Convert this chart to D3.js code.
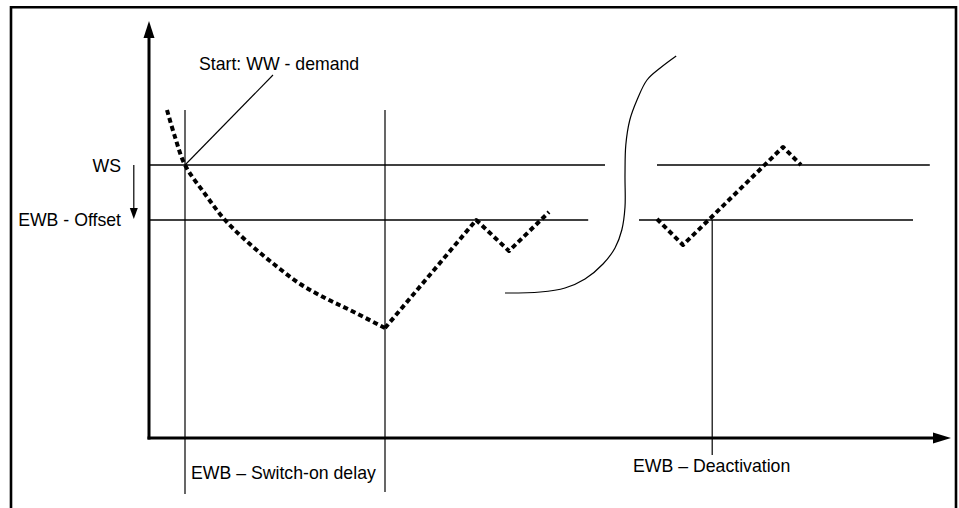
<!DOCTYPE html>
<html>
<head>
<meta charset="utf-8">
<script src="https://cdn.jsdelivr.net/npm/d3@7"></script>
<style>
  html, body { margin: 0; padding: 0; background: #fff; }
  svg { display: block; }
  text { font-family: "Liberation Sans", Arial, sans-serif; font-size: 17.7px; fill: #000; }
</style>
</head>
<body>
<script>
// ---- Data (schematic units: x = time, y = temperature) ----
const levels = [
  { name: "WS", y: 68.25, segments: [[0, 57], [63.5, 97.6]] },
  { name: "EWB - Offset", y: 54.5, segments: [[0, 54.9], [61.25, 95.5]] }
];
const markers = [
  { x: 4.5,  y0: 82, y1: -14 },
  { x: 29.5, y0: 82, y1: -13.5 },
  { x: 70.4, y0: 54.5, y1: -4.25 }
];
const coolingCurve = [
  [2.25, 82], [3.25, 75.25], [4.5, 68.25], [7, 61], [9.5, 54.5], [12.6, 48.5],
  [15.75, 43.25], [18.9, 38.5], [22, 35], [25.1, 32], [29.5, 27.5]
];
const heatingLeft = [[29.5, 27.5], [40.9, 54.5], [45, 46.75], [50, 56.5]];
const heatingRight = [[63.5, 54.75], [66.75, 48.25], [79.25, 72.75], [81.5, 68.25]];
const breakCurve = [
  [65.9, 95.5], [63.9, 92.5], [62.25, 89.5], [61, 84.5], [60.1, 79.5], [59.6, 73.25],
  [59.5, 65.75], [59.5, 57.75], [59.1, 52], [58.25, 47.5], [56.75, 43.5], [54.5, 39.75],
  [52, 37.5], [48.9, 36.5], [44.5, 36.25]
];
const leader = [[4.5, 68.25], [15.5, 90.75]];
const offsetArrow = { x: -1.9, y0: 68.25, y1: 54.5 };
const labels = [
  { text: "Start: WW - demand", x: 6.25, y: 92, anchor: "start" },
  { text: "WS", x: -3.5, y: 66.5, anchor: "end" },
  { text: "EWB - Offset", x: -3.5, y: 53, anchor: "end" },
  { text: "EWB \u2013 Switch-on delay", x: 5.25, y: -10.25, anchor: "start" },
  { text: "EWB \u2013 Deactivation", x: 60.5, y: -8.5, anchor: "start" }
];
const axisExtent = { xMax: 100.25, yMax: 104.25 };

// ---- Layout ----
const W = 959, H = 508;
const x = d3.scaleLinear().domain([0, 100]).range([149, 949]);
const y = d3.scaleLinear().domain([0, 100]).range([438, 38]);

const svg = d3.select("body").append("svg").attr("width", W).attr("height", H);

// outer frame (open at bottom)
svg.append("path")
  .attr("d", `M11,${H + 5} L11,7.3 L956,7.3 L956,${H + 5}`)
  .attr("fill", "none").attr("stroke", "#000").attr("stroke-width", 2.6);

const line = d3.line().x(d => x(d[0])).y(d => y(d[1]));

// level lines
levels.forEach(l => {
  l.segments.forEach(s => {
    svg.append("line")
      .attr("x1", x(s[0])).attr("x2", x(s[1]))
      .attr("y1", y(l.y)).attr("y2", y(l.y))
      .attr("stroke", "#000").attr("stroke-width", 1.3);
  });
});

// vertical markers
markers.forEach(m => {
  svg.append("line")
    .attr("x1", x(m.x)).attr("x2", x(m.x))
    .attr("y1", y(m.y0)).attr("y2", y(m.y1))
    .attr("stroke", "#000").attr("stroke-width", 1.2);
});

// leader line
svg.append("path").attr("d", line(leader))
  .attr("fill", "none").attr("stroke", "#000").attr("stroke-width", 1.1);

// break curve
svg.append("path")
  .attr("d", d3.line().x(d => x(d[0])).y(d => y(d[1])).curve(d3.curveCatmullRom)(breakCurve))
  .attr("fill", "none").attr("stroke", "#000").attr("stroke-width", 1.2);

// axes
svg.append("line")
  .attr("x1", x(0)).attr("x2", x(0)).attr("y1", y(0) + 1.5).attr("y2", y(axisExtent.yMax) + 14)
  .attr("stroke", "#000").attr("stroke-width", 3);
svg.append("path")
  .attr("d", `M${x(0)},${y(axisExtent.yMax)} L${x(0) - 5.5},${y(axisExtent.yMax) + 17} L${x(0) + 5.5},${y(axisExtent.yMax) + 17} Z`)
  .attr("fill", "#000");
svg.append("line")
  .attr("x1", x(0) - 1.5).attr("x2", x(axisExtent.xMax) - 14).attr("y1", y(0)).attr("y2", y(0))
  .attr("stroke", "#000").attr("stroke-width", 3);
svg.append("path")
  .attr("d", `M${x(axisExtent.xMax)},${y(0)} L${x(axisExtent.xMax) - 18},${y(0) - 5.5} L${x(axisExtent.xMax) - 18},${y(0) + 5.5} Z`)
  .attr("fill", "#000");

// small offset arrow
svg.append("line")
  .attr("x1", x(offsetArrow.x)).attr("x2", x(offsetArrow.x))
  .attr("y1", y(offsetArrow.y0)).attr("y2", y(offsetArrow.y1) - 10)
  .attr("stroke", "#000").attr("stroke-width", 1.2);
svg.append("path")
  .attr("d", `M${x(offsetArrow.x)},${y(offsetArrow.y1) - 1} L${x(offsetArrow.x) - 4},${y(offsetArrow.y1) - 12} L${x(offsetArrow.x) + 4},${y(offsetArrow.y1) - 12} Z`)
  .attr("fill", "#000");

// dashed temperature curves
const dashStyle = sel => sel.attr("fill", "none").attr("stroke", "#000")
  .attr("stroke-width", 4).attr("stroke-dasharray", "5,3.3").attr("stroke-linejoin", "round");
svg.append("path")
  .attr("d", d3.line().x(d => x(d[0])).y(d => y(d[1])).curve(d3.curveCatmullRom.alpha(0.5))(coolingCurve))
  .call(dashStyle);
svg.append("path").attr("d", line(heatingLeft)).call(dashStyle);
svg.append("path").attr("d", line(heatingRight)).call(dashStyle);

// labels
labels.forEach(l => {
  svg.append("text")
    .attr("x", x(l.x)).attr("y", y(l.y))
    .attr("text-anchor", l.anchor)
    .text(l.text);
});
</script>
</body>
</html>
